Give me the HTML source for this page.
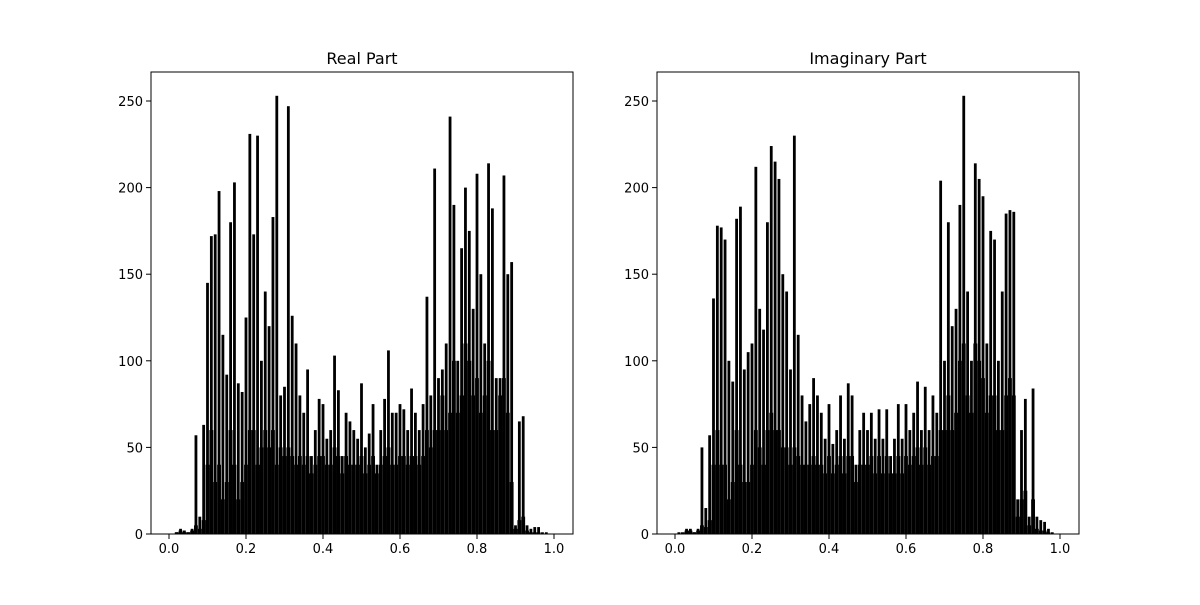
<!DOCTYPE html>
<html><head><meta charset="utf-8"><style>
html,body{margin:0;padding:0;background:#fff;}
svg text{font-family:"DejaVu Sans","Liberation Sans",sans-serif;fill:#000;}
</style></head><body>
<svg id="chart" width="1200" height="600" viewBox="0 0 1200 600" xmlns="http://www.w3.org/2000/svg"></svg>
<script>
const xValues = [0,0.01,0.02,0.03,0.04,0.05,0.06,0.07,0.08,0.09,0.10,0.11,0.12,0.13,0.14,0.15,0.16,0.17,0.18,0.19,0.20,0.21,0.22,0.23,0.24,0.25,0.26,0.27,0.28,0.29,0.30,0.31,0.32,0.33,0.34,0.35,0.36,0.37,0.38,0.39,0.40,0.41,0.42,0.43,0.44,0.45,0.46,0.47,0.48,0.49,0.50,0.51,0.52,0.53,0.54,0.55,0.56,0.57,0.58,0.59,0.60,0.61,0.62,0.63,0.64,0.65,0.66,0.67,0.68,0.69,0.70,0.71,0.72,0.73,0.74,0.75,0.76,0.77,0.78,0.79,0.80,0.81,0.82,0.83,0.84,0.85,0.86,0.87,0.88,0.89,0.90,0.91,0.92,0.93,0.94,0.95,0.96,0.97,0.98,0.99,1.00];
const realValues = [0,0,1,3,2,1,3,57,10,63,145,172,173,198,115,92,180,203,87,82,125,231,173,230,100,140,120,183,253,80,85,247,126,110,80,70,95,45,60,78,75,55,60,103,83,45,70,65,60,55,87,50,58,75,40,60,78,106,70,70,75,72,60,84,70,60,75,137,80,211,90,95,110,241,190,100,165,200,175,130,208,150,110,214,188,90,90,207,150,157,5,65,68,5,3,4,4,1,1,0,0];
const realBase = [0,0,1,2,1,1,2,5,3,8,40,60,30,40,20,30,60,40,20,30,40,60,60,40,50,60,50,60,40,50,45,50,45,40,45,40,45,35,40,45,45,40,40,50,45,35,45,40,40,40,45,35,40,45,35,40,45,50,40,40,45,45,40,45,45,40,45,60,50,60,60,80,60,70,100,70,80,110,100,80,90,70,80,100,60,60,80,90,70,30,3,8,10,2,1,1,1,0,0,0,0];
const imagValues = [0,1,0,3,3,1,3,50,15,57,136,178,177,170,100,88,182,189,95,105,110,212,130,118,180,224,215,205,150,140,95,230,115,80,65,75,90,80,70,55,75,52,60,80,55,87,80,40,60,70,60,70,55,72,55,72,45,55,75,55,75,60,70,88,60,85,60,80,70,204,100,180,120,130,190,253,140,100,214,205,195,110,175,170,100,140,185,187,186,20,60,78,10,84,10,8,7,3,1,0,0];
const imagBase = [0,0,1,2,2,1,2,5,4,8,40,60,40,40,20,30,60,40,30,30,40,60,50,40,60,70,60,60,50,50,40,50,45,40,40,40,45,40,40,35,45,35,40,45,35,45,45,30,40,40,40,45,35,45,35,45,35,35,45,35,45,40,45,50,40,50,40,45,45,60,60,80,60,70,100,110,80,70,110,100,90,70,80,80,60,60,80,90,80,10,20,25,5,20,3,2,2,1,0,0,0];
const yTicks = [0,50,100,150,200,250];
const xTicks = [0.0,0.2,0.4,0.6,0.8,1.0];
const xTickLabels = ["0.0","0.2","0.4","0.6","0.8","1.0"];

const svg = document.getElementById('chart');
const NS = 'http://www.w3.org/2000/svg';
function mk(tag, attrs){const e=document.createElementNS(NS,tag);for(const k in attrs)e.setAttribute(k,attrs[k]);return e;}

function panel(left, values, base, title, key){
  const ax = {l:left, r:left+422, t:72, b:534};
  const x0 = left+18, xScale = v => x0 + v*385;
  const yScale = v => 534 - v*(433/250);
  const g = mk('g',{});
  
  
  svg.appendChild(g);
  const step = 0.01*385;
  base.forEach((v,i)=>{
    const x = xScale(xValues[i]);
    const r = mk('rect',{x:(x-step/2).toFixed(2), y:yScale(v).toFixed(2), width:step.toFixed(2), height:(534-yScale(v)).toFixed(2), fill:'#000'});
    
    
    g.appendChild(r);
  });
  values.forEach((v,i)=>{
    const x = xScale(xValues[i]);
    const r = mk('rect',{x:(x-1.4).toFixed(2), y:yScale(v).toFixed(2), width:2.8, height:(534-yScale(v)).toFixed(2), fill:'#000'});
    
    
    g.appendChild(r);
  });
  const frame = mk('rect',{x:ax.l,y:ax.t,width:ax.r-ax.l,height:ax.b-ax.t,fill:'none',stroke:'#000','stroke-width':1});
  
  
  g.appendChild(frame);
  yTicks.forEach(t=>{
    const y = yScale(t);
    g.appendChild(mk('line',{x1:ax.l-5,x2:ax.l,y1:y,y2:y,stroke:'#000'}));
    const tx = mk('text',{x:ax.l-8,y:y+5,'text-anchor':'end','font-size':'13'});
    
    
    tx.textContent = t; g.appendChild(tx);
  });
  xTicks.forEach((t,i)=>{
    const x = xScale(t);
    g.appendChild(mk('line',{x1:x,x2:x,y1:ax.b,y2:ax.b+5,stroke:'#000'}));
    const tx = mk('text',{x:x,y:ax.b+19,'text-anchor':'middle','font-size':'13'});
    
    
    tx.textContent = xTickLabels[i]; g.appendChild(tx);
  });
  const tt = mk('text',{x:(ax.l+ax.r)/2,y:64,'text-anchor':'middle','font-size':'16'});
  
  
  tt.textContent = title; g.appendChild(tt);
}
panel(151, realValues, realBase, 'Real Part', 'real');
panel(657, imagValues, imagBase, 'Imaginary Part', 'imaginary');
</script>
</body></html>
